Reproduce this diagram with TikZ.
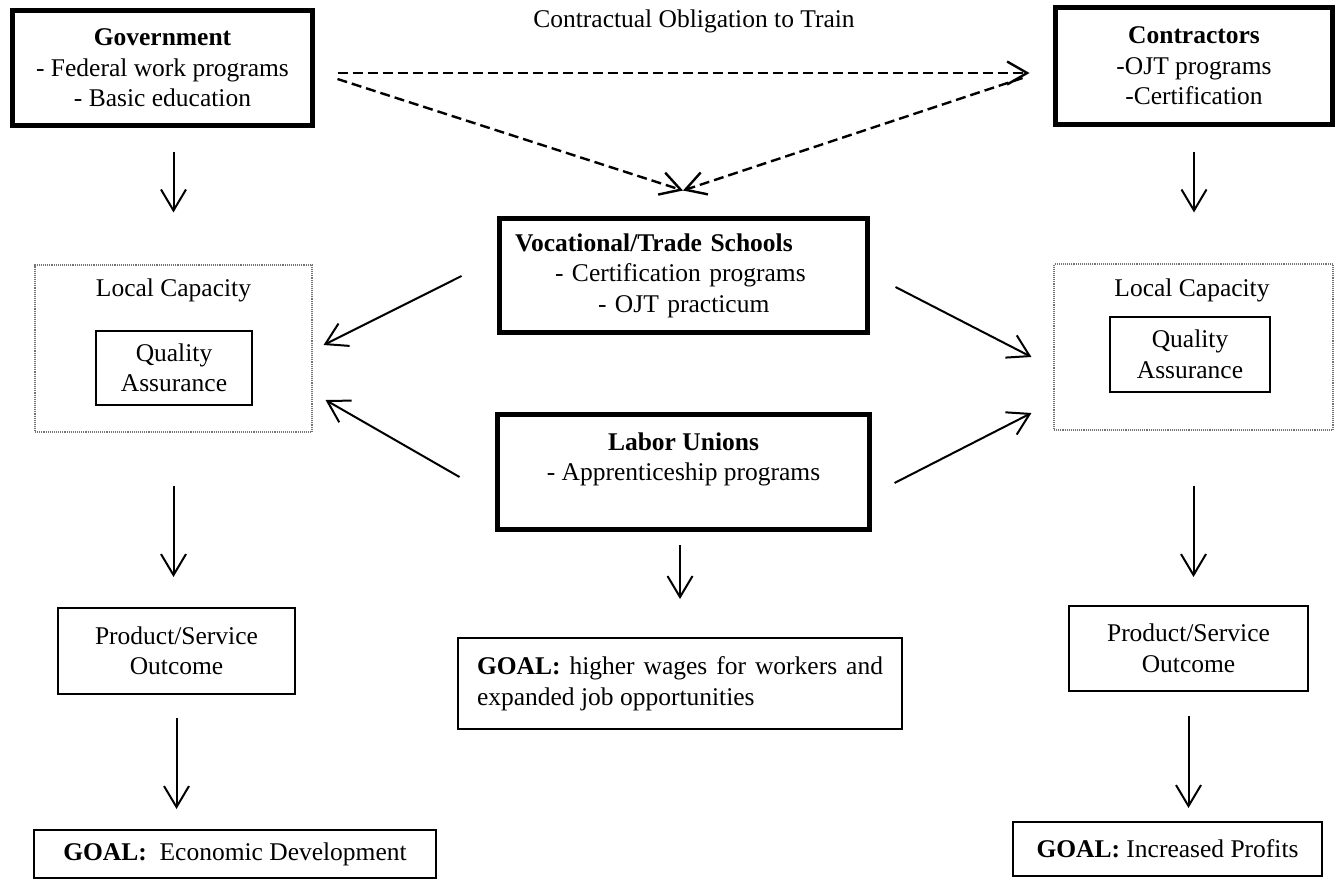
\documentclass[tikz,border=0pt]{standalone}
\usepackage{fontspec}
\setmainfont{Liberation Serif}
\usetikzlibrary{arrows.meta}
\begin{document}
\begin{tikzpicture}[x=1pt,y=-1pt,
  every node/.style={font=\fontsize{25.5}{30.5}\selectfont, inner sep=0pt},
  thickbox/.style={draw, line width=5pt, align=center},
  thinbox/.style={draw, line width=2pt, align=center},
  dotbox/.style={draw=black!55, densely dotted, line width=1.1pt},
  arr/.style={line width=2pt, -{Straight Barb[length=21pt,width=25pt]}},
  darr/.style={line width=2.4pt, dash pattern=on 10pt off 5pt, -{Straight Barb[length=20pt,width=23pt]}}]

\useasboundingbox[fill=white] (0,0) rectangle (1343,880);

% top row: sponsors
\node[thickbox, minimum width=300, minimum height=115] (gov) at (162.5,68)
  {\textbf{Government}\\- Federal work programs\\- Basic education};
\node[thickbox, minimum width=277, minimum height=117] (contr) at (1194,66)
  {\textbf{Contractors}\\-OJT programs\\-Certification};
\node (oblig) at (694,21) {Contractual Obligation to Train};

% centre column: training providers
\node[draw, line width=5pt, minimum width=368, minimum height=114,
      text width=337, inner xsep=15.5pt, align=left] (voc) at (683.5,275.5)
  {\textbf{Vocational/Trade Schools}\\\hspace*{40pt}- Certification programs\\\hspace*{83pt}- OJT practicum};
\node[thickbox, minimum width=372, minimum height=115] (lab) at (683.5,472)
  {\textbf{Labor Unions}\\- Apprenticeship programs\\ \mbox{}};
\node[draw, line width=2pt, minimum width=444, minimum height=91,
      text width=406, inner xsep=19pt, align=justify] (goalM) at (680,683.5)
  {\textbf{GOAL:} higher wages for workers and expanded job opportunities};

% left column
\node[dotbox, minimum width=277, minimum height=167] (lcL) at (173.5,348.5) {};
\node (lcLlab) at (173.5,290) {Local Capacity};
\node[thinbox, minimum width=156, minimum height=74] (qaL) at (174,368) {Quality\\Assurance};
\node[thinbox, minimum width=237, minimum height=86] (prodL) at (176.5,651) {Product/Service\\Outcome};
\node[thinbox, minimum width=402, minimum height=48] (goalL) at (235,854)
  {\textbf{GOAL:}\ \ Economic Development};

% right column
\node[dotbox, minimum width=279, minimum height=166] (lcR) at (1193.5,347) {};
\node (lcRlab) at (1192,290) {Local Capacity};
\node[thinbox, minimum width=160, minimum height=75] (qaR) at (1190,354.5) {Quality\\Assurance};
\node[thinbox, minimum width=239, minimum height=85] (prodR) at (1188.5,648.5) {Product/Service\\Outcome};
\node[thinbox, minimum width=309, minimum height=54] (goalR) at (1167.5,849)
  {\textbf{GOAL:} Increased Profits};

% contractual obligation (dashed)
\draw[darr] ([shift={(22.5,5)}]gov.east) -- ([shift={(-23.5,7)}]contr.west);
\draw[darr] ([shift={(22.5,11)}]gov.east) -- ([shift={(-0.5,-25.5)}]voc.north);
\draw[darr] ([shift={(-30.5,12)}]contr.west) -- ([shift={(-0.5,-25.5)}]voc.north);

% vertical flows
\draw[arr, shorten <=24pt, shorten >=52pt] (gov.south -| lcL.north) -- (lcL.north);
\draw[arr, shorten <=25pt, shorten >=51pt] (contr.south) -- (contr.south |- lcR.north);
\draw[arr, shorten <=53pt, shorten >=30pt] (lcL.south) -- (lcL.south |- prodL.north);
\draw[arr, shorten <=55pt, shorten >=28pt] (lcR.south) -- (lcR.south |- prodR.north);
\draw[arr, shorten <=23pt, shorten >=20pt] (prodL.south) -- (prodL.south |- goalL.north);
\draw[arr, shorten <=24pt, shorten >=13pt] (prodR.south) -- (prodR.south |- goalR.north);
\draw[arr, shorten <=13pt, shorten >=38pt] (lab.south -| goalM.north) -- (goalM.north);

% providers feeding local capacity
\draw[arr] ([shift={(-35.5,0.5)}]voc.west) -- ([shift={(11,-3.5)}]lcL.east);
\draw[arr] ([shift={(-35.5,5)}]lab.west) -- ([shift={(13,51.5)}]lcL.east);
\draw[arr] ([shift={(25.5,11.5)}]voc.east) -- ([shift={(-22,10)}]lcR.west);
\draw[arr] ([shift={(22.5,11)}]lab.east) -- ([shift={(-22,66)}]lcR.west);
\end{tikzpicture}
\end{document}
